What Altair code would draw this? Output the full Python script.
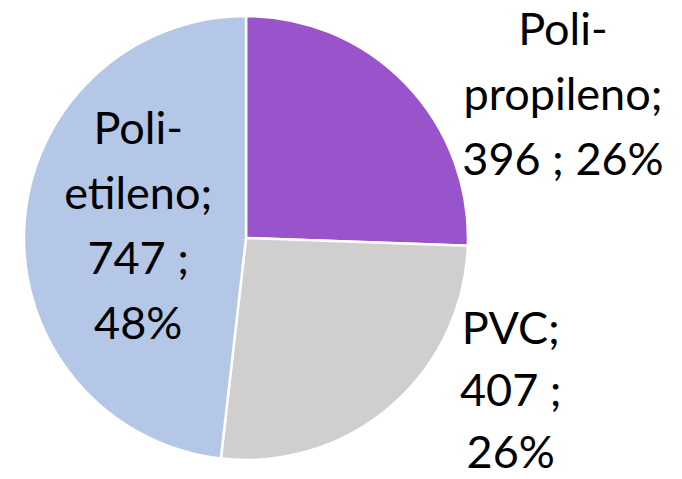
import altair as alt
import pandas as pd

categories = ["Polipropileno", "PVC", "Polietileno"]
name_text = ["Poli-\npropileno", "PVC", "Poli-\netileno"]
values = [396, 407, 747]
percents = [26, 26, 48]
value_breaks = [" ", "\n", "\n"]
colors = ["#9954CC", "#D0CECE", "#B4C7E7"]

labels = [
    f"{n};\n{v} ;{b}{p}%"
    for n, v, b, p in zip(name_text, values, value_breaks, percents)
]

df = pd.DataFrame({
    "cat": categories,
    "value": values,
    "label": labels,
    "order": list(range(len(categories))),
})

CX, CY, R = 238, 230, 222
FONT, FSIZE = "Lato", 45

pie = alt.Chart(df).mark_arc(radius=R, stroke="white", strokeWidth=2.5).encode(
    theta=alt.Theta("value:Q", stack=True),
    order=alt.Order("order:Q"),
    x=alt.value(CX),
    y=alt.value(CY),
    color=alt.Color("cat:N", scale=alt.Scale(domain=categories, range=colors), legend=None),
)


def label_layer(cat, radius, dx, dy, lh):
    return alt.Chart(df).transform_stack(
        stack="value", groupby=[], as_=["v0", "v1"], sort=[alt.SortField("order")]
    ).transform_calculate(
        mid="(datum.v0 + datum.v1) / 2"
    ).transform_filter(alt.datum.cat == cat).mark_text(
        radius=radius, dx=dx, dy=dy, align="center", baseline="middle",
        lineBreak="\n", lineHeight=lh, font=FONT, fontSize=FSIZE, color="black",
    ).encode(
        theta=alt.Theta("mid:Q", stack=None, scale=alt.Scale(domain=[0, sum(values)])),
        x=alt.value(CX),
        y=alt.value(CY),
        text="label:N",
    )


chart = alt.layer(
    pie,
    label_layer("Polipropileno", 260, 130, -26, 65),
    label_layer("PVC", 260, 95, -105, 62),
    label_layer("Polietileno", 110, 2, -102, 65),
).resolve_scale(theta="independent").properties(
    width=666, height=463, padding=0, autosize="none"
).configure_view(stroke=None)

chart.save("out.html", embed_options={"renderer": "svg", "actions": False})
